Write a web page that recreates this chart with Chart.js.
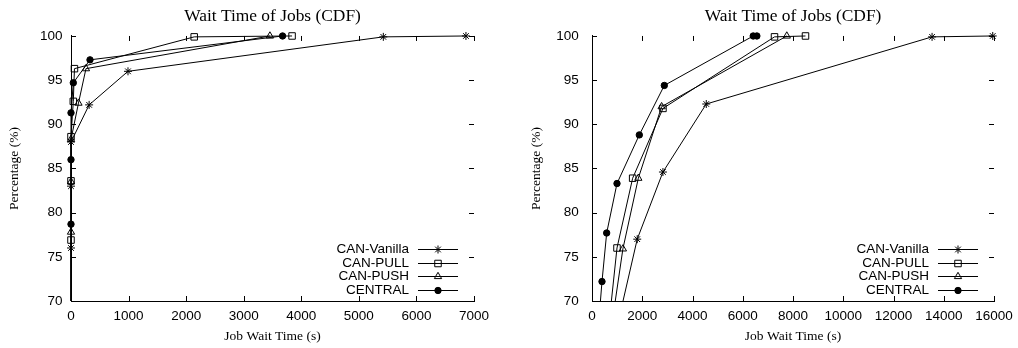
<!DOCTYPE html>
<html lang="en">
<head>
<meta charset="UTF-8">
<title>Wait Time of Jobs (CDF)</title>
<script src="https://cdn.jsdelivr.net/npm/chart.js"></script>
<style>
  html, body { margin: 0; padding: 0; background: #fff; overflow: hidden; }
  .wrap { position: relative; width: 1018px; height: 348px; overflow: hidden; }
  canvas { position: absolute; top: 0; }
  #leftChart { left: 0; }
  #rightChart { left: 509px; }
</style>
</head>
<body>
<div class="wrap">
  <canvas id="leftChart" width="545" height="348"></canvas>
  <canvas id="rightChart" width="568" height="348"></canvas>
</div>
<script>
// series names
const seriesNames = ['CAN-Vanilla', 'CAN-PULL', 'CAN-PUSH', 'CENTRAL'];

// left plot: wait time (s) and cumulative percentage
const leftVanillaX = [0, 0, 0, 0, 315, 990, 5425, 6860];
const leftVanillaY = [60, 76, 83, 88, 92.2, 96, 99.9, 100];
const leftPullX = [0, 0, 0, 0, 40, 60, 2140, 3840];
const leftPullY = [60, 76.9, 83.6, 88.6, 92.6, 96.3, 99.9, 100];
const leftPushX = [0, 0, 0, 0, 130, 260, 3455];
const leftPushY = [60, 77.8, 83.5, 88.3, 92.4, 96.3, 100];
const leftCentralX = [0, 0, 0, 0, 40, 330, 3675];
const leftCentralY = [60, 78.7, 86, 91.3, 94.7, 97.3, 100];

// right plot
const rightVanillaX = [1000, 1800, 2824, 4548, 13535, 15950];
const rightVanillaY = [67.1, 77, 84.6, 92.3, 99.9, 100];
const rightPullX = [600, 995, 1618, 2824, 7264, 8497];
const rightPullY = [65.4, 76, 83.9, 91.8, 99.9, 100];
const rightPushX = [720, 1230, 1844, 2771, 7753];
const rightPushY = [66, 75.9, 83.9, 92, 100];
const rightCentralX = [250, 398, 584, 995, 1883, 2878, 6417, 6562];
const rightCentralY = [67, 72.2, 77.7, 83.3, 88.8, 94.4, 100, 100];

const yTicks = [70, 75, 80, 85, 90, 95, 100];

const markers = [
  { pointStyle: 'star', radius: 4, fill: 'rgba(0,0,0,0)' },
  { pointStyle: 'rect', radius: 4.6, fill: 'rgba(0,0,0,0)' },
  { pointStyle: 'triangle', radius: 4.2, fill: 'rgba(0,0,0,0)' },
  { pointStyle: 'circle', radius: 3.2, fill: '#000' }
];

const sansFont = 'Liberation Sans, Arial, sans-serif';
const serifFont = 'Liberation Serif, Times New Roman, serif';

function toPoints(xs, ys) {
  return xs.map((x, i) => ({ x: x, y: ys[i] }));
}

function makeDatasets(series) {
  return series.map((s, i) => ({
    label: seriesNames[i],
    data: toPoints(s[0], s[1]),
    borderColor: '#000',
    borderWidth: 1,
    pointStyle: markers[i].pointStyle,
    pointRadius: markers[i].radius,
    pointBackgroundColor: markers[i].fill,
    pointBorderColor: '#000',
    pointBorderWidth: 1,
    tension: 0,
    clip: { left: 10, top: 10, right: 10, bottom: 0 }
  }));
}

// inward tick marks on all four sides, gnuplot style
const tickMarks = {
  id: 'tickMarks',
  afterDraw(chart) {
    const { ctx, chartArea: a, scales } = chart;
    const len = 5;
    ctx.save();
    ctx.strokeStyle = '#000';
    ctx.lineWidth = 1;
    ctx.beginPath();
    scales.x.ticks.forEach(t => {
      const px = Math.round(scales.x.getPixelForValue(t.value)) + 0.5;
      ctx.moveTo(px, a.bottom); ctx.lineTo(px, a.bottom - len);
      ctx.moveTo(px, a.top); ctx.lineTo(px, a.top + len);
    });
    scales.y.ticks.forEach(t => {
      const py = Math.round(scales.y.getPixelForValue(t.value)) + 0.5;
      ctx.moveTo(a.left, py); ctx.lineTo(a.left + len, py);
      ctx.moveTo(a.right, py); ctx.lineTo(a.right - len, py);
    });
    ctx.stroke();
    ctx.restore();
  }
};

// key in the lower right corner: label, then line sample with marker
const keyBox = {
  id: 'keyBox',
  afterDraw(chart) {
    const { ctx, chartArea: a } = chart;
    const rows = [52, 38.5, 25, 11.5];
    ctx.save();
    ctx.font = '13.5px ' + sansFont;
    ctx.textAlign = 'right';
    ctx.textBaseline = 'middle';
    chart.data.datasets.forEach((ds, i) => {
      const y = a.bottom - rows[i];
      ctx.fillStyle = '#000';
      ctx.fillText(ds.label, a.right - 65, y + 0.5);
      ctx.strokeStyle = '#000';
      ctx.lineWidth = 1;
      ctx.beginPath();
      ctx.moveTo(a.right - 56, Math.round(y) + 0.5);
      ctx.lineTo(a.right - 16, Math.round(y) + 0.5);
      ctx.stroke();
      ctx.fillStyle = markers[i].fill;
      Chart.helpers.drawPoint(ctx, {
        pointStyle: markers[i].pointStyle,
        radius: markers[i].radius,
        rotation: 0,
        borderWidth: 1
      }, a.right - 36, Math.round(y) + 0.5);
    });
    ctx.restore();
  }
};

// an empty right-hand axis as wide as the left one keeps the title centred on the plot
function buildChart(id, series, xMax, xStep, yAxisWidth, yLabelPad, yTitlePad) {
  return new Chart(document.getElementById(id), {
    type: 'line',
    data: { datasets: makeDatasets(series) },
    options: {
      responsive: false,
      animation: false,
      events: [],
      layout: { padding: 0 },
      plugins: {
        legend: { display: false },
        tooltip: { enabled: false },
        title: {
          display: true,
          text: 'Wait Time of Jobs (CDF)',
          color: '#000',
          font: { family: serifFont, size: 17.4, weight: 'normal' },
          padding: { top: 6.2, bottom: 8.9 }
        }
      },
      scales: {
        x: {
          type: 'linear',
          min: 0,
          max: xMax,
          grid: { display: false, drawTicks: false },
          border: { display: true, color: '#000', width: 1 },
          ticks: {
            stepSize: xStep,
            color: '#000',
            padding: 7,
            maxRotation: 0,
            callback: v => String(v),
            font: { family: sansFont, size: 13.5 }
          },
          title: {
            display: true,
            text: 'Job Wait Time (s)',
            color: '#000',
            font: { family: serifFont, size: 13.5 },
            padding: { top: 0, bottom: 3.2 }
          },
          afterFit: s => { s.height = 47; }
        },
        y: {
          type: 'linear',
          min: 70,
          max: 100,
          grid: { display: false, drawTicks: false },
          border: { display: true, color: '#000', width: 1 },
          afterBuildTicks: s => { s.ticks = yTicks.map(v => ({ value: v })); },
          ticks: {
            color: '#000',
            padding: yLabelPad,
            callback: v => String(v),
            font: { family: sansFont, size: 13.5 }
          },
          title: {
            display: true,
            text: 'Percentage (%)',
            color: '#000',
            font: { family: serifFont, size: 13.5 },
            padding: { top: yTitlePad, bottom: 0 }
          },
          afterFit: s => { s.width = yAxisWidth; }
        },
        yRight: {
          type: 'linear',
          position: 'right',
          min: 70,
          max: 100,
          grid: { display: false, drawTicks: false },
          border: { display: false },
          ticks: { display: false },
          afterFit: s => { s.width = yAxisWidth; }
        }
      }
    },
    plugins: [tickMarks, keyBox]
  });
}

buildChart('leftChart', [
  [leftVanillaX, leftVanillaY],
  [leftPullX, leftPullY],
  [leftPushX, leftPushY],
  [leftCentralX, leftCentralY]
], 7000, 1000, 71, 8.4, 5.9);

buildChart('rightChart', [
  [rightVanillaX, rightVanillaY],
  [rightPullX, rightPullY],
  [rightPushX, rightPushY],
  [rightCentralX, rightCentralY]
], 16000, 2000, 83, 13.3, 19.6);
</script>
</body>
</html>
